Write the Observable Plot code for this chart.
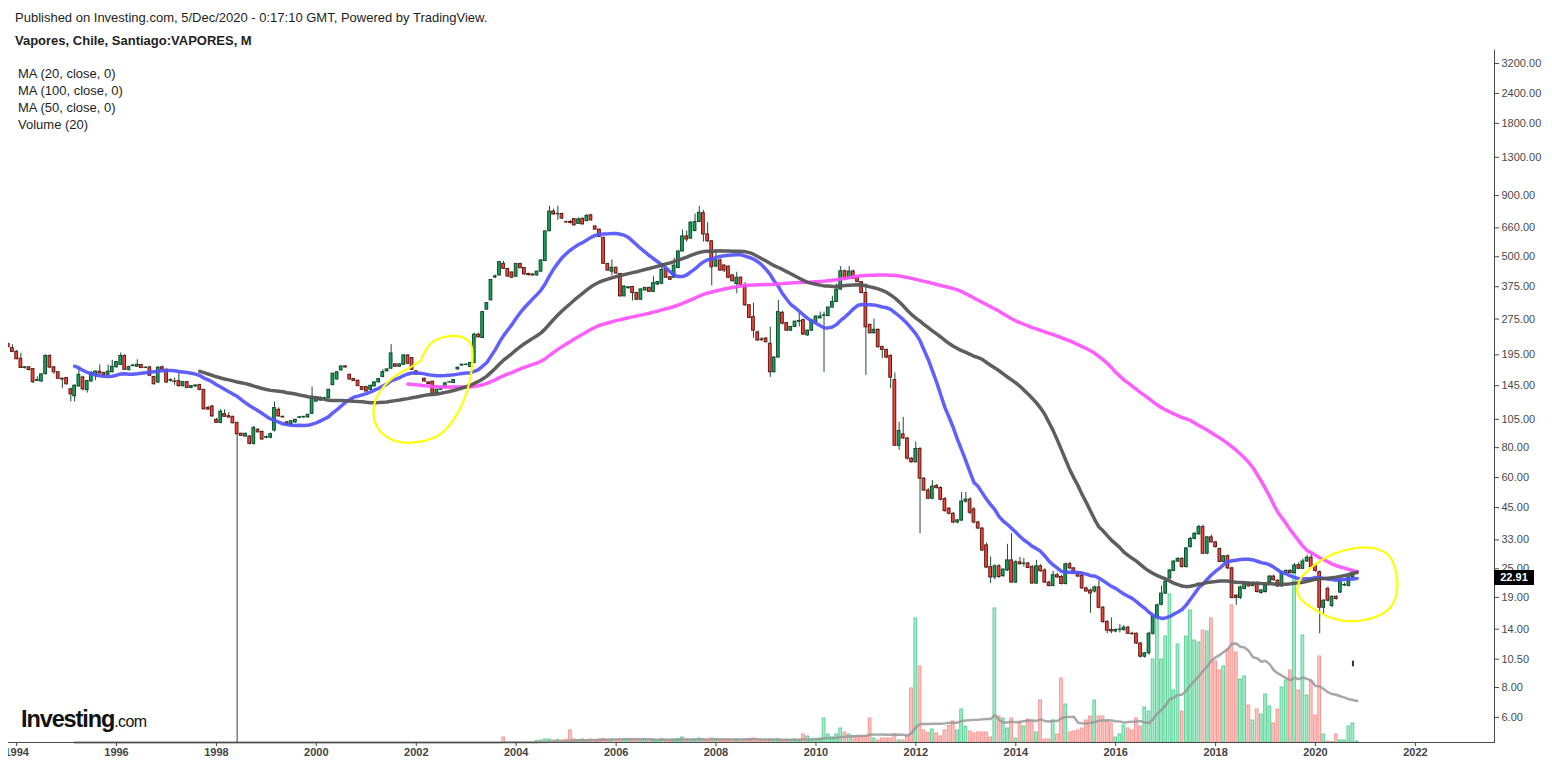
<!DOCTYPE html>
<html><head><meta charset="utf-8">
<script src="https://cdn.jsdelivr.net/npm/d3@7"></script>
<script src="https://cdn.jsdelivr.net/npm/@observablehq/plot@0.6"></script>
<style>
body{margin:0;background:#fff;font-family:"Liberation Sans",Arial,sans-serif;}
#wrap{position:relative;width:1552px;height:767px;overflow:hidden;background:#fff;}
#vol,#price{position:absolute;left:0;top:0;}
#price svg{clip-path:inset(0 0 0 8px);}
.t{position:absolute;white-space:nowrap;color:#1e1e1e;font-size:13px;line-height:15px;}
</style></head><body>
<div id="wrap">
  <div id="vol"></div>
  <div id="price"></div>
  <div class="t" style="left:15px;top:10px;">Published on Investing.com, 5/Dec/2020 - 0:17:10 GMT, Powered by TradingView.</div>
  <div class="t" style="left:15px;top:33px;font-weight:bold;">Vapores, Chile, Santiago:VAPORES, M</div>
  <div class="t" style="left:18px;top:65px;line-height:17px;">MA (20, close, 0)<br>MA (100, close, 0)<br>MA (50, close, 0)<br>Volume (20)</div>
  <div class="t" style="left:21px;top:705px;font-size:23.5px;line-height:28px;font-weight:bold;letter-spacing:-1.1px;color:#111;">Investing<span style="font-size:16px;font-weight:normal;letter-spacing:-0.6px;">.com</span></div>
  <div id="lastLabel" style="position:absolute;left:1494px;width:40px;height:15px;background:#000;color:#fff;font:bold 11px 'Liberation Sans',Arial,sans-serif;line-height:15px;text-align:center;"></div>
</div>
<script>
// ---- monthly bars, first bar = Aug 1993, last bar = Nov 2020 ----
const firstYear = 1993, firstMonth = 7; // Aug (0-based)

const open = [
 222,219,221,216,208,
 201,188,172,173,170,152,151,162,193,173,165,155,
 156,140,131,144,157,139,151,160.5,166,164,161,165,
 173,177,193,168.5,175,174,177,172,173,157.5,149.6,173,
 169,152,151,151.6,144.4,150,142,144,145.8,139.4,117,118.8,
 104.5,101.5,110.4,108.2,107.6,101.5,91.4,89,89,83,95,93,
 88,88,94.3,115,107.5,102,99.7,102,106.5,107,107,110.8,
 124.5,125.8,128.5,128.6,145.8,154,168,174.5,161,154.6,152,143,
 143,139.4,144,149.7,157.5,166.4,170.8,178,174,177.3,193.8,189,
 166.4,161.3,155,149.7,150.7,134.9,139.4,143,149.5,148.8,169.6,176,
 177,173.5,180.4,236.7,229.3,301,329,410,418,467,445,430,
 413,467,449,424,422,418,433.5,480,639,772,752,754,
 697,699,718,686,720,704,744,669,649,600,467,433.5,
 450,424,342,370,374,353,331,362,371,357,383,386,
 445,411,409,449,526,608,595,640,697.5,760,620,580,
 455,483,460,455,418,385,409,380,314,280,242,226,
 228,217,165,190,292,264.5,246,255,268,272,235,246,
 266,277,284,283,307,324,365,435,404,434,409,392,
 353,260,240,248,210,204.5,193,153,81.4,90.8,87.4,72,
 69.5,79,59.4,53,49,55.4,54.3,48.8,44.5,42.4,39,39.7,
 47.6,48.6,44.2,39,36.8,31.3,25.4,23,25.6,23.3,24.6,27.1,
 21.9,26.6,26.2,26.3,25.4,21.7,25.6,24.6,21.9,21.2,23.5,23.1,
 21.6,26.1,25.1,23.8,23.4,20.7,20.3,20.1,20.9,17.2,15,13.9,
 13.7,13.9,13.9,14.2,13.4,13.4,12.2,10.75,11.1,13.4,15.7,17.7,
 19.7,22.8,24.5,26.8,27.5,25.4,30.8,33.3,34.8,37.3,28.9,33.8,
 32.2,30.2,26.7,28.2,25.1,19.3,18.9,20.6,21.6,21.2,21.6,19.8,
 20,21.9,23.2,22.3,21.1,24,24.5,24,25.9,25,26.8,27.8,
 25.9,24.2,17.2,20.6,17.5,19.1,19.9,21.3,21.2,23,24
];
const high = [
 226,224,223,218,215,
 203,198,174,174,171,158,163,195,195,174,166,156,
 157,142,146,172,159,152.5,166,167,177,165,177,185,
 183,198.5,195,175,178,186,178,174,174,159,174,175,
 170,155,156,164,151,151,145,146,147,140,119,120,
 106,115.3,115,112,108,102,92,92,90,98,96,94,
 89.5,92,124,117,108.5,103,104,105,108,108,110,143,
 129.5,130,130,140,163.5,166,175,176,162,155.5,153,144,
 144,145.5,150.5,155.5,169,170.5,215,179,179,195,195,190,
 167,162,156,150,151,140,143,149,151,154,173,178.5,
 179,181.5,240,240,296,322,402,420,478,479,447,432,
 469,469,451,427,423,435,485,640,812,790,812,760,
 705,710,722,726,725,750,752,672,651,603,469,484,
 452,426,378,376,376,355,368,373,373,413,395,467,
 447,413,494,530,646,640,700,754,812,780,694,585,
 533,490,462,458,420,431,412,390,316,320,245,230,
 230,254,192,329,296,266,256,268,292,275,247,272,
 284,294,294,308,342,385,455,440,455,440,412,394,
 385,262,275,250,212,206,195,164,102,107,88,72.5,
 84.4,80,60,54,58.4,56,55,49.5,45,43,40,52,
 52,49.5,45,39.5,37,32,28,26,26,25,31.6,35,
 27,27.9,27.6,26.6,25.8,27.1,26,25,22.2,24.4,24,23.5,
 26.4,26.6,25.3,24.2,23.8,21,20.6,21.2,22.3,17.4,15.2,15.6,
 14,14.6,14.5,14.4,13.6,13.5,12.3,11.2,13.6,15.9,17.8,21.2,
 22.3,24.8,27,27.8,27.8,30.6,33.8,35.3,38,38,34,34.5,
 32.5,30.5,28.4,28.6,25.4,19.5,21.2,22,22,22,22,20.5,
 21.5,23.4,23.5,22.5,24.5,24.7,24.8,26.3,26.5,27.5,28.5,29,
 26.2,24.5,18.6,21,19.3,19.3,22.6,21.8,23.2,24.2,24.6
];
const low = [
 216,214,213,209,199,
 186,171,170,167,148,151,150,161,171,161.6,154,141,
 146,124,124,143,138,135,150,152,162,159,160,164,
 172,176,168,167,174,173,171,171,158,146,148,168,
 148,150,145.5,143,143,141,141,143,138,115,114.5,107,
 101,100.5,107,106,100.5,1,89,88.5,82,82,92,86,
 87,87,93,107,106,99,99,101,106,106,106,110,
 124,125,127,128,145,153,167,172,153,151,144,139,
 136.5,139,143.5,149,157,166,170,173,173,176,178,168,
 161,160,150,147,133,134,139,142.5,149,148,168,175,
 176,173,179,230,228,300,328,405,416,444,412,407,
 411,447,420,416,416,416,432,478,636,745,709,715,
 690,685,672,684,680,700,706,645,602,465,436,416,
 424,340,340,366,327,330,330,360,355,355,381,384,
 406,399,406,446,524,575,592,636,695,575,575,378,
 452,436,430,405,393,351,378,310,276,229,222,222,
 219,157,164,189,260,245,244,253,255,235,233,244,
 264,275,165,281,305,322,363,402,402,402,390,351,
 160,238,238,208,188,188,141,81,77.8,86.5,71,69,
 69,35,52.5,48.5,48.5,53.9,48,43,42,38.5,38.5,39.5,
 47,42,38.5,36.5,29.5,25,21.7,22.5,22.8,23,24.4,21.8,
 21.7,26,25.4,25,21.5,21.5,24.2,21.7,21,21,22.8,21.4,
 21.4,24.8,23.6,23,20.5,20,16.3,19.8,17,14.8,13.4,13.4,
 13.5,13.5,13.7,13.3,13.2,12.1,10.6,10.6,10.9,13.2,15.5,17.5,
 19.5,22.6,24.3,26.5,25.2,25.2,30.5,33,34.5,28.6,28.6,32,
 30.5,26.5,26.5,24.8,18.7,17.6,18.6,20.4,21,21,19.8,19.6,
 19.8,21.7,22.2,20.9,20.9,23.8,23.8,23.8,24.8,24.8,26.6,25.2,
 24.2,13.4,16.2,18.2,17.2,18.5,19.7,21.1,21,22.8,23.9
];
const close = [
 219,221,216,210,200.5,
 187,172,173,168.5,150,153,161.5,193,172.5,165,155,154,
 147,133.5,145,161,140,151.6,164,166,163,160.5,166,174,
 182,193,169,173.3,176,177.3,171.7,172.4,159.6,147,172.4,169,
 149.6,153,150.5,144.4,150.2,142,144.4,145.3,139.4,115.6,115.3,108,
 101.5,113,107.6,106.9,101.1,91,89.6,91.4,83,96.7,92.7,86.5,
 88.5,91,117,108,107,99.7,103,104.5,107,107.5,109.7,129,
 128,129,128.6,139.4,162.7,165,174.5,172.8,154,151.6,144.4,139.4,
 137.2,144.9,149.7,154.6,165.2,169.6,197.7,174,178,193.8,179,169,
 161.6,161,151,147.3,134,139.4,142.3,148.3,149.7,153,172.4,177.3,
 177.5,180.4,236.7,230.7,294,320.5,400,414,475,445.5,413.6,409,
 467,448,422,419,418,433.5,483,638,772,751,755,722,
 695,692,676,716,682,740,709,649,605,467.5,438,450,
 426,342,376,373,353,331,365.6,371,357,388,392,441,
 409,401,459,526,608,590,694,697.5,763,620,580,452,
 483,438,438,409,395,409,381,314,278,246,224,224.5,
 220,165,190,294,263,246,255,268.4,270,237,246,271,
 281.6,281.6,285,307,324,365,435,404,434,404,392,353,
 254,240,248,210,204.5,190,156.6,81.5,94,87.4,72,69.5,
 79,59.4,53,49,55,54.2,48.5,43.5,42.4,39,39.8,47.7,
 48.6,42.8,39,36.8,29.8,25.3,23,25.6,23.1,24.8,27.1,21.9,
 26.6,26.1,26.3,25.2,21.7,25.6,24.4,21.9,21.2,23.5,23,21.6,
 26.1,25.1,23.8,23.2,20.7,20.1,19.7,20.9,17.2,15,13.8,13.7,
 13.9,13.95,14.2,13.4,13.35,12.2,10.75,11.1,13.4,15.8,17.6,19.7,
 22.1,24.6,26.8,27.5,25.4,30.4,33.3,35,37.3,28.9,33.8,32.2,
 30.8,26.7,28.2,25.1,18.9,18.9,20.9,21.6,21.1,21.6,20,20.3,
 21.3,23.2,22.4,21.1,24,24.5,24,25.8,25,26.8,27.8,25.4,
 24.5,17.2,18.4,18.4,19.1,18.7,22.3,21.4,23,24,24.4
];
const volume = [
 0,0,0,0,0,
 0,0,0,0,0,0,0,0,0,0,0,0,
 0,0,0,0,0,0,0,0,0,0,0,0,
 0,0,0,0,0,0,0,0,0,0,0,0,
 0,0,0,0,0,0,0,0,0,0,0,0,
 0,0,0,0,0,0,0,0,0,0,0,0,
 0,0,0,0,0,0,0,0,0,0,0,0,
 0,0,0,0,0,0,0,0,0,0,0,0,
 0,0,0,0,0,0,0,0,0,0,0,0,
 0,0,0,0,0,0,0,0,0,0,0,0,
 0,0,0,0,0,0,0,0,0,5,0,0,
 0,0,0,0,0,1.5,2,3,3,2,2.5,2,
 2.5,12,3,2.5,3,2.5,3,2,3,3.5,2.5,3,
 2.5,3,2.5,3,3.5,2.5,2,3,2.5,3,2,3.5,
 3,2.5,3,3.5,5,3,2.5,3,4,3.5,2.5,4,
 3.5,3,2.5,3,2,3,2.5,3,3.5,4,2.5,2,
 2,3,2.5,3,2,2.5,2,3,2.5,8,6,3,
 3,4,24,8,5,8,14,10,8,6,6,6,
 6,24,4,2,4,4,4,8,2,2,7,54,
 124,76,12,9.5,13,9,6,12,16.5,21,12,33,
 15.5,11,9,10,10,10,5,134,26,24,14,24,
 4,19,16,23,22,10,42,3,3,22,8,64,
 38,10,11,12,14,22,26,42,26,26,21,19,
 5,8,17,14,12,24,16,35,31,83,128,83,
 106,148,52,98,31,106,132,102,100,112,111,124,
 81,72,76,93,137,90,63,66,37,22,33,28,
 48,36,19,33,55,62,72,172,52,107,47,61,
 27,86,8,1,0.5,8,2,2,16,19,1
];

const priceTicks = [3200,2400,1800,1300,900,660,500,375,275,195,145,105,80,60,45,33,25,19,14,10.5,8,6];
const yearTicks = [1994,1996,1998,2000,2002,2004,2006,2008,2010,2012,2014,2016,2018,2020,2022];
const lastPrice = 22.91;

// hand-drawn yellow loops (decimal year, price)
const loop1Year  = [2002.10,2002.29,2002.55,2002.89,2003.09,2003.12,2003.02,2002.82,2002.49,2002.02,2001.55,2001.22,2001.15,2001.29,2001.55,2001.89,2002.10];
const loop1Price = [188,217,231,232,217,179,138.5,110.7,91.3,84.3,85.7,97.3,118,138.5,157.4,173.3,185];
const loop2Year  = [2019.63,2019.70,2019.97,2020.37,2020.77,2021.17,2021.47,2021.62,2021.62,2021.50,2021.17,2020.70,2020.30,2019.97,2019.70,2019.63];
const loop2Price = [20.3,22.67,25.83,28.86,30.45,30.45,28.4,23.8,19.66,17.24,15.65,15.1,15.65,16.98,18.74,20.3];
// small stray tick drawn on the chart
const strayTick = [{year: 2020, month: 9, top: 10.3, bottom: 9.75}];

// ---- build ----
const bars = close.map((c, i) => ({
  date: new Date(Date.UTC(firstYear, firstMonth + i, 1)),
  open: open[i], high: high[i], low: low[i], close: c, volume: volume[i],
  up: c >= open[i]
}));
function sma(arr, k) { return arr.map((_, i) => i < k - 1 ? NaN : d3.mean(arr.slice(i - k + 1, i + 1))); }
const ma20 = sma(close, 20), ma50 = sma(close, 50), ma100 = sma(close, 100), vma20 = sma(volume, 20);
const yearToDate = y => new Date(Date.UTC(1996, 0, 1) + (y - 1996) * 365.25 * 864e5);
const loops = [
  ...loop1Year.map((y, i) => ({id: 1, date: yearToDate(y), price: loop1Price[i]})),
  ...loop2Year.map((y, i) => ({id: 2, date: yearToDate(y), price: loop2Price[i]}))
];
const stray = strayTick.map(d => ({date: new Date(Date.UTC(d.year, d.month, 1)), top: d.top, bottom: d.bottom}));

const W = 1552, H = 767, mL = 8, mR = 58, mT = 50, mB = 25;
const xDomain = [new Date(Date.UTC(1993, 10, 2, 10)), new Date(Date.UTC(2023, 7, 2))];
const yDomain = [4.716, 3624];
const half = d => [d3.utcDay.offset(d.date, -10), d3.utcDay.offset(d.date, 10)];

const upC = {fill: "#17a35e", stroke: "#0e4a2c"}, dnC = {fill: "#f2463c", stroke: "#5e1915"};
const wick = "#1d4d31";

const priceChart = Plot.plot({
  width: W, height: H, marginLeft: mL, marginRight: mR, marginTop: mT, marginBottom: mB,
  style: {background: "transparent", fontFamily: "'Liberation Sans', Arial, sans-serif", fontSize: "11px", color: "#4a4a4a"},
  x: {type: "utc", domain: xDomain, ticks: yearTicks.map(y => new Date(Date.UTC(y, 0, 1))), tickFormat: d3.utcFormat("%Y"), tickSize: 4, tickPadding: 2, line: true, label: null},
  y: {type: "log", domain: yDomain, axis: "right", ticks: priceTicks, tickFormat: () => "", tickSize: 4, tickPadding: 3, line: true, label: null},
  marks: [
    Plot.ruleX(bars, {x: "date", y1: "low", y2: "high", stroke: wick, strokeWidth: 1, clip: true}),
    Plot.rect(bars.filter(d => d.up), {x1: d => half(d)[0], x2: d => half(d)[1], y1: "open", y2: "close", fill: upC.fill, stroke: upC.stroke, strokeWidth: 1, clip: true}),
    Plot.rect(bars.filter(d => !d.up), {x1: d => half(d)[0], x2: d => half(d)[1], y1: "open", y2: "close", fill: dnC.fill, stroke: dnC.stroke, strokeWidth: 1, clip: true}),
    Plot.line(bars, {x: "date", y: (d, i) => ma20[i], stroke: "#5353ff", strokeWidth: 3.5, strokeOpacity: 0.92, clip: true}),
    Plot.line(bars, {x: "date", y: (d, i) => ma100[i], stroke: "#ff50ff", strokeWidth: 3.5, strokeOpacity: 0.92, clip: true}),
    Plot.line(bars, {x: "date", y: (d, i) => ma50[i], stroke: "#555555", strokeWidth: 3.5, strokeOpacity: 0.95, clip: true}),
    Plot.ruleX(stray, {x: "date", y1: "bottom", y2: "top", stroke: "#333", strokeWidth: 2}),
    Plot.line(loops, {x: "date", y: "price", z: "id", stroke: "#ffff00", strokeWidth: 2.2, curve: "catmull-rom"}),
    // right-hand price labels (every tick, as in the reference)
    Plot.text(priceTicks, {y: d => d, text: d => d.toFixed(2), frameAnchor: "right", textAnchor: "start", dx: 7, fill: "#4a4a4a"})
  ]
});

const volChart = Plot.plot({
  width: W, height: H, marginLeft: mL, marginRight: mR, marginTop: mT, marginBottom: mB,
  style: {background: "transparent"},
  x: {type: "utc", domain: xDomain, axis: null},
  y: {domain: [0, 692], range: [H - mB, mT], axis: null},
  marks: [
    Plot.rect(bars.filter(d => d.up && d.volume > 0), {x1: d => half(d)[0], x2: d => half(d)[1], y1: 0, y2: "volume", fill: "#a6eac9", stroke: "#5fd39b", strokeWidth: 1}),
    Plot.rect(bars.filter(d => !d.up && d.volume > 0), {x1: d => half(d)[0], x2: d => half(d)[1], y1: 0, y2: "volume", fill: "#ffc3c0", stroke: "#f59893", strokeWidth: 1}),
    Plot.line(bars, {x: "date", y: (d, i) => vma20[i], stroke: "#999999", strokeWidth: 2.5, strokeOpacity: 0.85})
  ]
});

document.getElementById("vol").appendChild(volChart);
document.getElementById("price").appendChild(priceChart);
priceChart.querySelectorAll('[aria-label^="x-axis"] text').forEach(t => { t.setAttribute("font-weight", "bold"); t.setAttribute("fill", "#444"); });

// last price label placed with the chart's own y scale
const ys = priceChart.scale("y");
let yPx;
if (ys && typeof ys.apply === "function") yPx = ys.apply(lastPrice);
else yPx = d3.scaleLog().domain(yDomain).range([H - mB, mT])(lastPrice);
const lab = document.getElementById("lastLabel");
lab.textContent = lastPrice.toFixed(2);
lab.style.top = (yPx - 7.5) + "px";
</script>
</body></html>
